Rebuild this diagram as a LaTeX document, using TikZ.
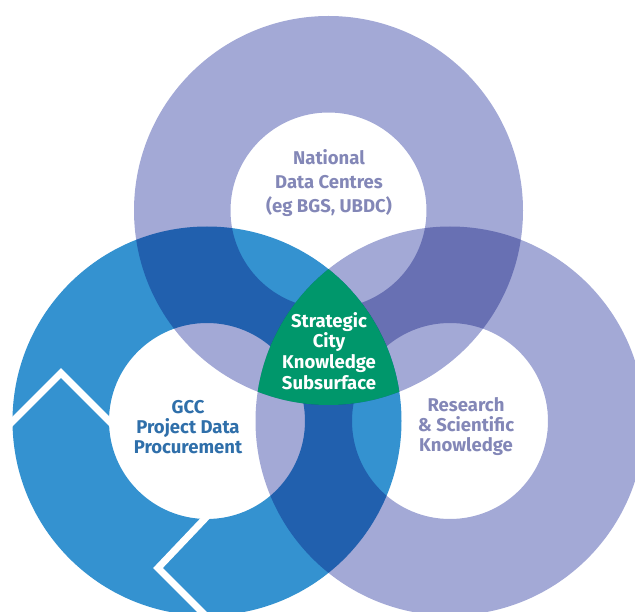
\documentclass[tikz,border=0pt]{standalone}
\usepackage{fontspec}
\setmainfont{Fira Sans}
\definecolor{lav}{HTML}{A3A9D6}
\definecolor{gccblue}{HTML}{3492D0}
\definecolor{core}{HTML}{00976B}
\definecolor{labgrey}{HTML}{8387B7}
\definecolor{labblue}{HTML}{2F6FAA}
\begin{document}
\begin{tikzpicture}[x=1pt,y=-1pt,
  ring/.style={even odd rule},
  lab/.style={align=center, inner sep=0pt, font=\bfseries\fontsize{18.5}{20}\selectfont},
  chev/.style={white, line width=7pt, miter limit=10}]
\useasboundingbox (0,0) rectangle (635,612);
% ring centres
\coordinate (ctop) at (328.5,210.5);
\coordinate (cleft) at (207,421);
\coordinate (cright) at (450,421);
% rings, overlaps darken
\begin{scope}[blend group=multiply]
\fill[lav, ring] (ctop) circle (194.5) (ctop) circle (98);
\fill[gccblue, ring] (cleft) circle (194.5) (cleft) circle (98);
\fill[lav, ring] (cright) circle (194.5) (cright) circle (98);
\end{scope}
% centre piece
\begin{scope}
\clip (ctop) circle (194.5);
\clip (cleft) circle (194.5);
\fill[core] (cright) circle (194.5);
\end{scope}
% chevrons
\draw[chev] (4,430) -- (61,373) -- (118,430);
\draw[chev] (215,508) -- (158,568) -- (215,625);
% labels
\node[lab, text=labgrey, font=\bfseries\fontsize{18.5}{23.7}\selectfont] (national) at (329,183) {National\\Data Centres\\(eg BGS, UBDC)};
\node[lab, text=labblue] (gcc) at (188,427) {GCC\\Project Data\\Procurement};
\node[lab, text=labgrey] (research) at (466,427) {Research\\\& Scientific\\Knowledge};
\node[lab, text=white, font=\bfseries\fontsize{18.5}{20.7}\selectfont] (core) at (329,351) {Strategic\\City\\Knowledge\\Subsurface};
\end{tikzpicture}
\end{document}
